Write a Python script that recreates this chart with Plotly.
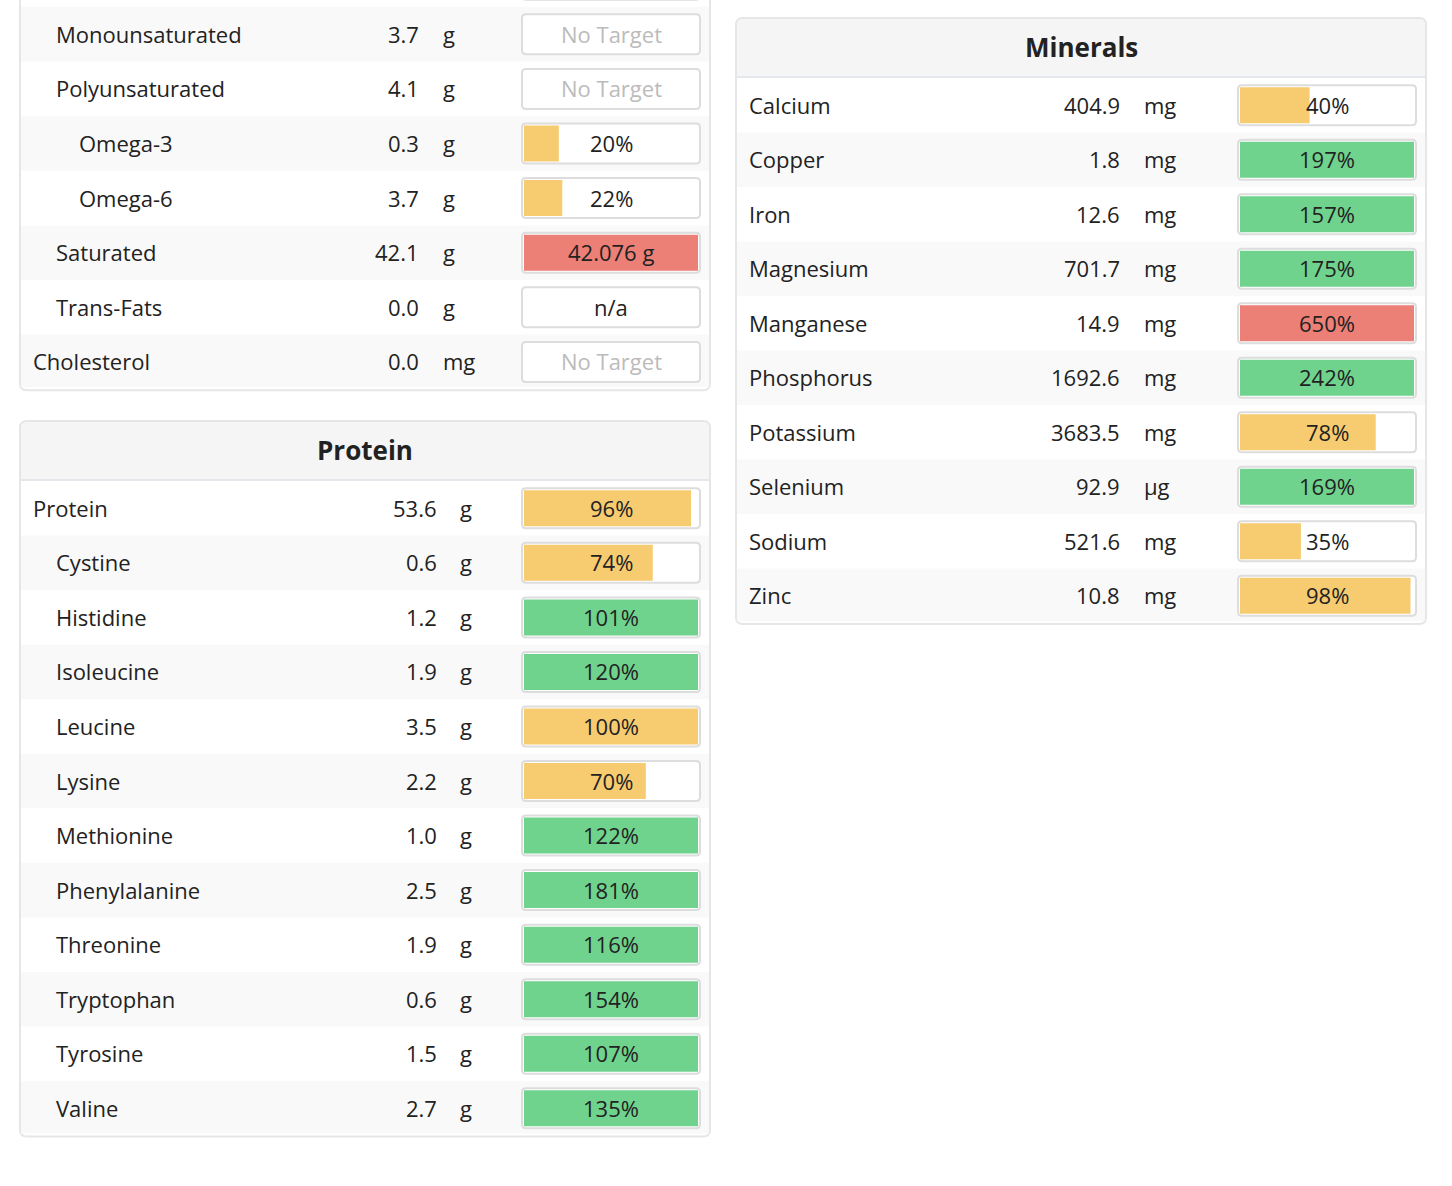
import plotly.graph_objects as go

# ---------------- data ----------------
fat_names = ["", "Monounsaturated", "Polyunsaturated", "Omega-3", "Omega-6",
             "Saturated", "Trans-Fats", "Cholesterol"]
fat_indent = [1, 1, 1, 2, 2, 1, 1, 0]
fat_values = [None, 3.7, 4.1, 0.3, 3.7, 42.1, 0.0, 0.0]
fat_units = ["", "g", "g", "g", "g", "g", "g", "mg"]
fat_pct = [None, None, None, 20, 22, None, None, None]
fat_labels = ["", "No Target", "No Target", "20%", "22%", "42.076 g", "n/a", "No Target"]
fat_over = [False, False, False, False, False, True, False, False]

protein_names = ["Protein", "Cystine", "Histidine", "Isoleucine", "Leucine", "Lysine",
                 "Methionine", "Phenylalanine", "Threonine", "Tryptophan", "Tyrosine", "Valine"]
protein_indent = [0, 1, 1, 1, 1, 1, 1, 1, 1, 1, 1, 1]
protein_values = [53.6, 0.6, 1.2, 1.9, 3.5, 2.2, 1.0, 2.5, 1.9, 0.6, 1.5, 2.7]
protein_units = ["g"] * 12
protein_pct = [96, 74, 101, 120, 100, 70, 122, 181, 116, 154, 107, 135]
protein_labels = [f"{p}%" for p in protein_pct]
protein_over = [False] * 12

mineral_names = ["Calcium", "Copper", "Iron", "Magnesium", "Manganese", "Phosphorus",
                 "Potassium", "Selenium", "Sodium", "Zinc"]
mineral_indent = [0] * 10
mineral_values = [404.9, 1.8, 12.6, 701.7, 14.9, 1692.6, 3683.5, 92.9, 521.6, 10.8]
mineral_units = ["mg", "mg", "mg", "mg", "mg", "mg", "mg", "µg", "mg", "mg"]
mineral_pct = [40, 197, 157, 175, 650, 242, 78, 169, 35, 98]
mineral_labels = [f"{p}%" for p in mineral_pct]
mineral_over = [False, False, False, False, True, False, False, False, False, False]

# ---------------- style / layout ----------------
W, H = 1452, 1186
FONT = "Open Sans"
TXT = "#222222"
YELLOW = "#F7CB70"
GREEN = "#6FD38E"
RED = "#EC7F76"
FS = 22

panels = [
    dict(title=None, x0=20, x1=710, top=-120, rows_top=7 - 54.6, row_h=54.6, name_x=33,
         val_r=419, unit_l=443, box=(522, 700), names=fat_names, indent=fat_indent,
         values=fat_values, units=fat_units, pct=fat_pct, labels=fat_labels, over=fat_over),
    dict(title="Protein", x0=20, x1=710, top=421, rows_top=481, row_h=54.55, name_x=33,
         val_r=437, unit_l=460, box=(522, 700), names=protein_names, indent=protein_indent,
         values=protein_values, units=protein_units, pct=protein_pct,
         labels=protein_labels, over=protein_over),
    dict(title="Minerals", x0=736, x1=1426, top=18, rows_top=78, row_h=54.5, name_x=749,
         val_r=1120, unit_l=1144, box=(1238, 1416), names=mineral_names,
         indent=mineral_indent, values=mineral_values, units=mineral_units,
         pct=mineral_pct, labels=mineral_labels, over=mineral_over),
]


def rrect(x0, y0, x1, y1, r):
    return (f"M {x0+r},{y0} L {x1-r},{y0} Q {x1},{y0} {x1},{y0+r} "
            f"L {x1},{y1-r} Q {x1},{y1} {x1-r},{y1} L {x0+r},{y1} "
            f"Q {x0},{y1} {x0},{y1-r} L {x0},{y0+r} Q {x0},{y0} {x0+r},{y0} Z")


def rtop(x0, y0, x1, y1, r):
    return (f"M {x0+r},{y0} L {x1-r},{y0} Q {x1},{y0} {x1},{y0+r} "
            f"L {x1},{y1} L {x0},{y1} L {x0},{y0+r} Q {x0},{y0} {x0+r},{y0} Z")


shapes = []
annotations = []
bar_y, bar_x, bar_base, bar_col = [], [], [], []

for p in panels:
    n = len(p["names"])
    RH = p["row_h"]
    bottom = p["rows_top"] + n * RH
    # panel body
    shapes.append(dict(type="path", path=rrect(p["x0"], p["top"], p["x1"], bottom + 1, 7),
                       xref="x", yref="y", fillcolor="white",
                       line=dict(color="#E6E6E6", width=2), layer="below"))
    # header
    if p["title"]:
        hb = p["rows_top"] - 1
        shapes.append(dict(type="path", path=rtop(p["x0"] + 1, p["top"] + 1, p["x1"] - 1, hb, 6),
                           xref="x", yref="y", fillcolor="#F5F5F5", line=dict(width=0),
                           layer="below"))
        shapes.append(dict(type="line", x0=p["x0"] + 1, x1=p["x1"] - 1, y0=hb, y1=hb,
                           xref="x", yref="y", line=dict(color="#E4E7EB", width=2),
                           layer="below"))
        annotations.append(dict(x=(p["x0"] + p["x1"]) / 2, y=(p["top"] + hb) / 2 - 1,
                                text=f"<b>{p['title']}</b>", showarrow=False,
                                xanchor="center", yanchor="middle",
                                font=dict(family=FONT, size=26, color=TXT)))
    bx0, bx1 = p["box"]
    for i in range(n):
        ry0 = p["rows_top"] + i * RH
        ry1 = ry0 + RH
        cy = (ry0 + ry1) / 2
        if i % 2 == 1:
            yb = min(ry1, bottom - 2)
            shapes.append(dict(type="rect", x0=p["x0"] + 1, x1=p["x1"] - 1, y0=ry0, y1=yb,
                               xref="x", yref="y", fillcolor="#F9F9F9", line=dict(width=0),
                               layer="below"))
        # box outline
        shapes.append(dict(type="path", path=rrect(bx0, cy - 20, bx1, cy + 20, 4),
                           xref="x", yref="y", fillcolor="white",
                           line=dict(color="#DDDDDD", width=2), layer="below"))
        pct = p["pct"][i]
        over = p["over"][i]
        if over or pct is not None:
            frac = 1.0 if over else min(pct, 100) / 100.0
            col = RED if over else (GREEN if pct > 100 else YELLOW)
            bar_y.append(cy)
            bar_base.append(bx0 + 2)
            bar_x.append((bx1 - bx0 - 4) * frac)
            bar_col.append(col)
        ty = cy - 0.5
        name = p["names"][i]
        if name:
            annotations.append(dict(x=p["name_x"] + 23 * p["indent"][i], y=ty, text=name,
                                    showarrow=False, xanchor="left", yanchor="middle",
                                    font=dict(family=FONT, size=FS, color=TXT)))
        v = p["values"][i]
        if v is not None:
            annotations.append(dict(x=p["val_r"], y=ty, text=f"{v:.1f}", showarrow=False,
                                    xanchor="right", yanchor="middle",
                                    font=dict(family=FONT, size=FS, color=TXT)))
            annotations.append(dict(x=p["unit_l"], y=ty, text=p["units"][i],
                                    showarrow=False, xanchor="left", yanchor="middle",
                                    font=dict(family=FONT, size=FS, color=TXT)))
        lab = p["labels"][i]
        if lab:
            c = "#BBBBBB" if lab == "No Target" else TXT
            annotations.append(dict(x=(bx0 + bx1) / 2, y=ty, text=lab, showarrow=False,
                                    xanchor="center", yanchor="middle",
                                    font=dict(family=FONT, size=FS, color=c)))

for a in annotations:
    a.update(xref="x", yref="y", borderpad=0, borderwidth=0)

fig = go.Figure()
fig.add_trace(go.Bar(y=bar_y, x=bar_x, base=bar_base, orientation="h", width=36,
                     marker=dict(color=bar_col, line=dict(width=0)),
                     hoverinfo="skip", showlegend=False))

fig.update_layout(
    width=W, height=H, margin=dict(l=0, r=0, t=0, b=0),
    paper_bgcolor="white", plot_bgcolor="white",
    xaxis=dict(range=[0, W], visible=False, fixedrange=True),
    yaxis=dict(range=[H, 0], visible=False, fixedrange=True),
    shapes=shapes, annotations=annotations, barmode="overlay",
    font=dict(family=FONT, size=FS, color=TXT),
)

fig.write_html("out.html", config={"displayModeBar": False},
               post_script="document.body.style.margin='0';document.body.style.overflow='hidden';")
